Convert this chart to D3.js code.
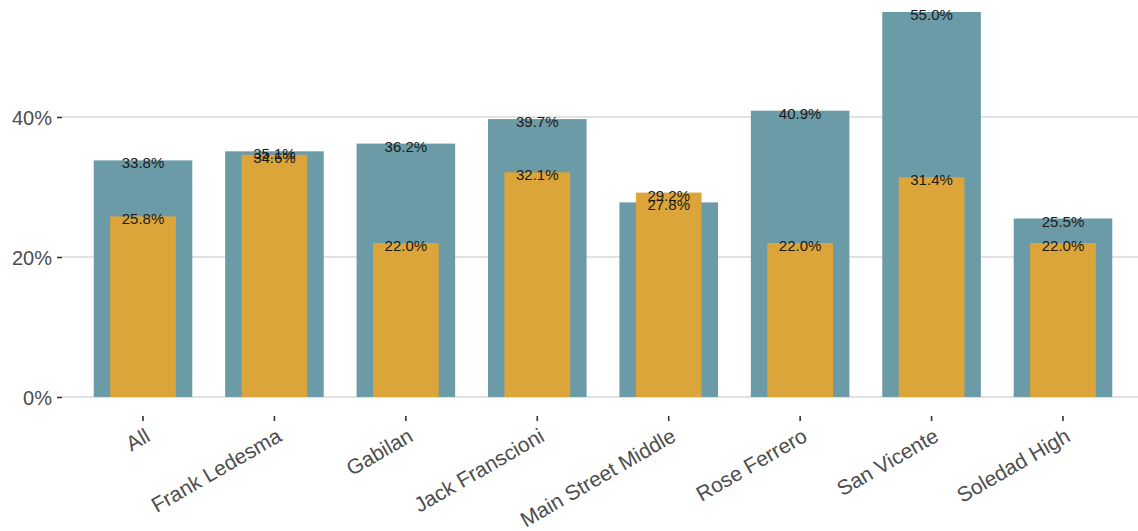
<!DOCTYPE html>
<html>
<head>
<meta charset="utf-8">
<script src="https://cdn.jsdelivr.net/npm/d3@7"></script>
<style>
  body { margin: 0; background: #fff; }
  svg { font-family: "Liberation Sans", Arial, sans-serif; }
</style>
</head>
<body>
<div id="chart"></div>
<script>
// categories and series (percent)
var schools = ["All", "Frank Ledesma", "Gabilan", "Jack Franscioni", "Main Street Middle", "Rose Ferrero", "San Vicente", "Soledad High"];
var backValues = [33.8, 35.1, 36.2, 39.7, 27.8, 40.9, 55.0, 25.5];
var frontValues = [25.8, 34.6, 22.0, 32.1, 29.2, 22.0, 31.4, 22.0];
var yTicks = [0, 20, 40];

var width = 1138, height = 531;
var colorBack = "#6a9ba6", colorFront = "#dca53a";

var svg = d3.select("#chart").append("svg")
    .attr("width", width)
    .attr("height", height);

// scales
var x = d3.scaleBand()
    .domain(schools)
    .range([77.3, 1128.7])
    .padding(0);

var y = d3.scaleLinear()
    .domain([0, 40])
    .range([397, 117]);

var plotLeft = 62;

// gridlines
svg.append("g")
  .selectAll("line")
  .data(yTicks)
  .enter()
  .append("line")
    .attr("x1", plotLeft)
    .attr("x2", width)
    .attr("y1", function(d) { return y(d); })
    .attr("y2", function(d) { return y(d); })
    .style("stroke", "#d9d9d9")
    .style("stroke-width", 1.6);

// y axis
var yAxis = svg.append("g")
    .attr("transform", "translate(" + plotLeft + ",0)")
    .call(d3.axisLeft(y).tickValues(yTicks).tickSize(5).tickPadding(5).tickFormat(function(d) { return d + "%"; }));
yAxis.select(".domain").remove();
yAxis.selectAll(".tick line").style("stroke", "#333").style("stroke-width", 1.6);
yAxis.selectAll(".tick text").style("font-size", "20px").style("fill", "#4d4d4d").attr("dy", "0.36em");

// x axis
var xAxis = svg.append("g")
    .attr("transform", "translate(0,416)")
    .call(d3.axisBottom(x).tickSize(5).tickPadding(0));
xAxis.select(".domain").remove();
xAxis.selectAll(".tick line").style("stroke", "#333").style("stroke-width", 1.6);
xAxis.selectAll(".tick text")
    .style("font-size", "21px")
    .style("fill", "#4d4d4d")
    .style("text-anchor", "end")
    .attr("y", 0)
    .attr("dy", "0.72em")
    .attr("transform", "translate(1,11) rotate(-30)");

// back bars
var bw = x.bandwidth();
svg.append("g")
  .selectAll("rect")
  .data(backValues)
  .enter()
  .append("rect")
    .attr("x", function(d, i) { return x(schools[i]) + bw * 0.125; })
    .attr("width", bw * 0.75)
    .attr("y", function(d) { return y(d); })
    .attr("height", function(d) { return y(0) - y(d); })
    .style("fill", colorBack);

// front bars
svg.append("g")
  .selectAll("rect")
  .data(frontValues)
  .enter()
  .append("rect")
    .attr("x", function(d, i) { return x(schools[i]) + bw * 0.25; })
    .attr("width", bw * 0.5)
    .attr("y", function(d) { return y(d); })
    .attr("height", function(d) { return y(0) - y(d); })
    .style("fill", colorFront);

// value labels
function labels(vals) {
  svg.append("g")
    .selectAll("text")
    .data(vals)
    .enter()
    .append("text")
      .attr("x", function(d, i) { return x(schools[i]) + bw / 2; })
      .attr("y", function(d) { return y(d) + 8; })
      .attr("text-anchor", "middle")
      .style("font-size", "15px")
      .style("fill", "#1a1a1a")
      .text(function(d) { return d.toFixed(1) + "%"; });
}
labels(backValues);
labels(frontValues);
</script>
</body>
</html>
